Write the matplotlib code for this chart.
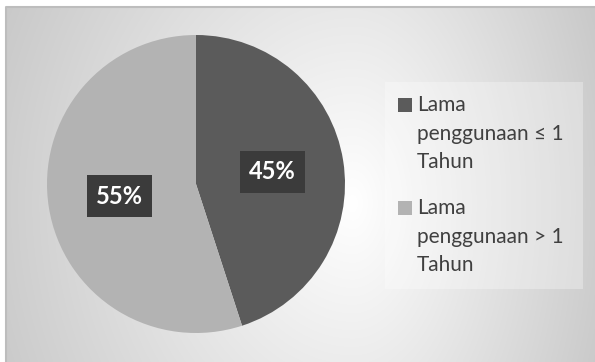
import numpy as np
import matplotlib
matplotlib.use("Agg")
import matplotlib.pyplot as plt
from matplotlib.patches import Rectangle

plt.rcParams['font.family'] = ['Lato', 'DejaVu Sans']

# data
categories = ["Lama\npenggunaan \u2264 1\nTahun", "Lama\npenggunaan > 1\nTahun"]
values = [45, 55]
colors = ["#5b5b5b", "#b3b3b3"]

W, H = 595, 362
fig = plt.figure(figsize=(W / 100, H / 100), dpi=100)
fig.patch.set_facecolor("white")

# background gradient (pixel coords, y down)
bg = fig.add_axes([0, 0, 1, 1])
bg.set_xlim(0, W)
bg.set_ylim(H, 0)
bg.axis("off")
xx, yy = np.meshgrid(np.arange(W), np.arange(H))
cx, cy = 350, 200
dx = xx - cx
tx = np.where(dx < 0, dx / 360.0, dx / 250.0)
ty = (yy - cy) / 430.0
t = np.clip(np.sqrt(tx ** 2 + ty ** 2), 0, 1.2)
shade = (255 - 50 * t) / 255.0
img = np.dstack([shade, shade, shade])
bg.imshow(img, extent=(6, W, H, 7), aspect="auto", zorder=0)
bg.plot([6, 6, W], [H, 7, 7], color="#bdbdbd", lw=1.5, zorder=1)

# legend box
bg.add_patch(Rectangle((385, 82), 198, 207, facecolor="white", alpha=0.3,
                       edgecolor="none", zorder=2))

# pie
left, right, top, bottom = 47, 345, 35, 333
ax = fig.add_axes([left / W, (H - bottom) / H, (right - left) / W, (bottom - top) / H])
ax.set_facecolor("none")
wedges, _, autotexts = ax.pie(values, colors=colors, startangle=90, counterclock=False,
                              autopct="%d%%", pctdistance=0.52, radius=1.0,
                              wedgeprops=dict(linewidth=0))
for at in autotexts:
    at.set_color("white")
    at.set_fontsize(17)
    at.set_fontweight("bold")
    at.set_bbox(dict(boxstyle="square,pad=0.4", facecolor="#3b3b3b", edgecolor="none"))
ax.set_xlim(-1, 1)
ax.set_ylim(-1, 1)
ax.set_aspect("equal")

# legend entries
entry_y = [105, 208]
line_step = 28.7
for i, (lab, col) in enumerate(zip(categories, colors)):
    y0 = entry_y[i]
    bg.add_patch(Rectangle((398, y0 - 7), 14, 14, facecolor=col, edgecolor="none", zorder=3))
    for j, line in enumerate(lab.split("\n")):
        bg.text(417, y0 + j * line_step, line, fontsize=15, color="#404040",
                va="center", ha="left", zorder=3)

fig.savefig("out.png", dpi=100)
